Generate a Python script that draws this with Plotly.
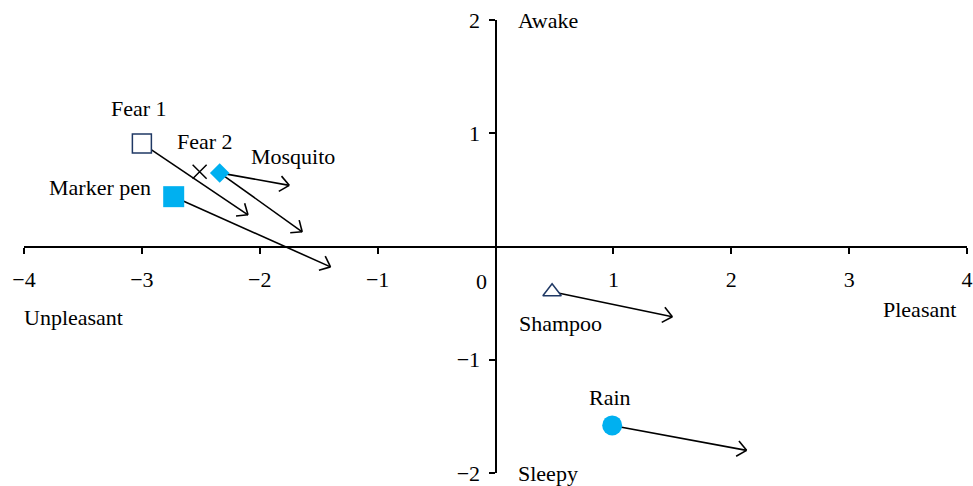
import math
import plotly.graph_objects as go

# Stimulus positions on the valence (x) / arousal (y) plane
names = ["Fear 1", "Fear 2", "Mosquito", "Marker pen", "Shampoo", "Rain"]
pos_x = [-3.00, -2.51, -2.34, -2.73, 0.48, 0.99]
pos_y = [0.91, 0.66, 0.65, 0.44, -0.40, -1.58]

# Shift arrows: start -> end
arrow_x0 = [-3.00, -2.34, -2.34, -2.73, 0.48, 0.99]
arrow_y0 = [0.91, 0.65, 0.65, 0.44, -0.40, -1.58]
arrow_x1 = [-2.10, -1.64, -1.75, -1.40, 1.50, 2.13]
arrow_y1 = [0.28, 0.13, 0.54, -0.18, -0.62, -1.80]

x_ticks = [-4, -3, -2, -1, 1, 2, 3, 4]
y_ticks = [-2, -1, 1, 2]

W, H = 973, 486
M = dict(l=24, r=6, t=20, b=13, autoexpand=False)
X_RANGE = [-4, 4]
Y_RANGE = [-2, 2]

FONT = "Liberation Serif"
FS = 22
BLUE = "#00B0F0"
NAVY = "#1F3864"

fig = go.Figure()

# pixels per data unit, for drawing arrowheads with a fixed on-screen size
sx = (W - M["l"] - M["r"]) / (X_RANGE[1] - X_RANGE[0])
sy = (H - M["t"] - M["b"]) / (Y_RANGE[1] - Y_RANGE[0])
HEAD_LEN = 12
HEAD_ANG = math.radians(40)

ax_pts, ay_pts = [], []
for x0, y0, x1, y1 in zip(arrow_x0, arrow_y0, arrow_x1, arrow_y1):
    theta = math.atan2((y1 - y0) * sy, (x1 - x0) * sx)
    back = theta + math.pi
    ax_pts += [x0, x1, None]
    ay_pts += [y0, y1, None]
    for s in (-1, 1):
        a = back + s * HEAD_ANG
        ax_pts += [x1 + HEAD_LEN * math.cos(a) / sx, x1, None]
        ay_pts += [y1 + HEAD_LEN * math.sin(a) / sy, y1, None]

fig.add_trace(go.Scatter(
    x=ax_pts, y=ay_pts, mode="lines",
    line=dict(color="black", width=1.6),
    hoverinfo="skip", showlegend=False,
))

styles = {
    "Fear 1": dict(symbol="square", size=19, color="white", line=dict(color=NAVY, width=1.5)),
    "Fear 2": dict(symbol="x-thin", size=14, color="black", line=dict(color="black", width=1.5)),
    "Mosquito": dict(symbol="diamond", size=15, color=BLUE, line=dict(width=0)),
    "Marker pen": dict(symbol="square", size=21, color=BLUE, line=dict(width=0)),
    "Shampoo": dict(symbol="triangle-up", size=16, color="white", line=dict(color=NAVY, width=1.5)),
    "Rain": dict(symbol="circle", size=20, color=BLUE, line=dict(width=0)),
}

for n, x, y in zip(names, pos_x, pos_y):
    fig.add_trace(go.Scatter(
        x=[x], y=[y], mode="markers", name=n,
        marker=styles[n], showlegend=False,
    ))

# label offsets in pixels relative to each marker
label_shift = {
    "Fear 1": (-3, 35),
    "Fear 2": (5, 30),
    "Mosquito": (73, 16),
    "Marker pen": (-74, 9),
    "Shampoo": (8, -32),
    "Rain": (-2, 28),
}
for n, x, y in zip(names, pos_x, pos_y):
    dx, dy = label_shift[n]
    fig.add_annotation(x=x, y=y, text=n, showarrow=False, xshift=dx, yshift=dy,
                       font=dict(family=FONT, size=FS, color="black"))

# pole labels
fig.add_annotation(x=0.17, y=2, text="Awake", xanchor="left", yanchor="middle",
                   showarrow=False, font=dict(family=FONT, size=FS, color="black"))
fig.add_annotation(x=0.17, y=-2, text="Sleepy", xanchor="left", yanchor="middle",
                   showarrow=False, font=dict(family=FONT, size=FS, color="black"))
fig.add_annotation(x=-4, y=-0.63, text="Unpleasant", xanchor="left", yanchor="middle", xshift=-2,
                   showarrow=False, font=dict(family=FONT, size=FS, color="black"))
fig.add_annotation(x=3.92, y=-0.56, text="Pleasant", xanchor="right", yanchor="middle",
                   showarrow=False, font=dict(family=FONT, size=FS, color="black"))
fig.add_annotation(x=-0.117, y=-0.31, text="0", showarrow=False,
                   font=dict(family=FONT, size=FS, color="black"))

fig.update_layout(
    width=W, height=H, margin=M,
    paper_bgcolor="white", plot_bgcolor="white",
    font=dict(family=FONT, size=FS, color="black"),
    xaxis=dict(
        range=X_RANGE, tickvals=x_ticks, showgrid=False, zeroline=False,
        showline=True, linecolor="black", linewidth=2,
        ticks="outside", ticklen=6, tickwidth=2, tickcolor="black",
        anchor="free", position=0.5, ticklabelstandoff=7, automargin=False,
        tickfont=dict(family=FONT, size=FS, color="black"),
    ),
    yaxis=dict(
        range=Y_RANGE, tickvals=y_ticks, showgrid=False, zeroline=False,
        showline=True, linecolor="black", linewidth=2,
        ticks="outside", ticklen=6, tickwidth=2, tickcolor="black",
        anchor="free", position=0.5, ticklabelstandoff=4, automargin=False,
        tickfont=dict(family=FONT, size=FS, color="black"),
    ),
)

fig.write_html("out.html")
